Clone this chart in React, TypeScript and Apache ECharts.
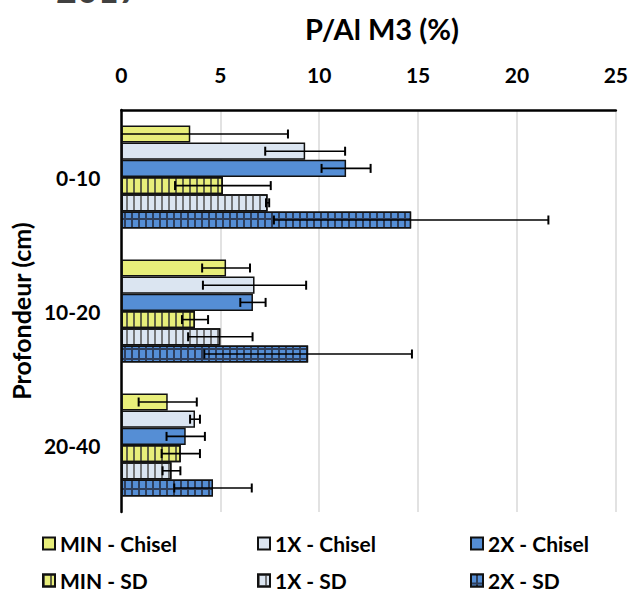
import React, { useEffect, useRef } from "react";
import * as echarts from "echarts";

const categories = ["0-10", "10-20", "20-40"];
const seriesNames = ["MIN - Chisel", "1X - Chisel", "2X - Chisel", "MIN - SD", "1X - SD", "2X - SD"];
const minChisel = [3.48, 5.29, 2.34];
const oneXChisel = [9.29, 6.73, 3.72];
const twoXChisel = [11.36, 6.65, 3.25];
const minSD = [5.13, 3.72, 3.0];
const oneXSD = [7.39, 5.0, 2.53];
const twoXSD = [14.65, 9.44, 4.63];
const errMinChisel = [4.94, 1.21, 1.47];
const errOneXChisel = [2.02, 2.61, 0.25];
const errTwoXChisel = [1.24, 0.64, 0.97];
const errMinSD = [2.42, 0.66, 0.97];
const errOneXSD = [0.08, 1.63, 0.45];
const errTwoXSD = [6.94, 5.25, 1.96];
const xTicks = [0, 5, 10, 15, 20, 25];

const FONT = "Lato";
const CAT_GAP = 0.23;

const YELLOW = "#e8ee7a";
const LIGHT = "#dbe5f1";
const BLUE = "#558ed5";

export default function App() {
  const ref = useRef<HTMLDivElement>(null);
  useEffect(() => {
    if (!ref.current) return;
    const chart = echarts.init(ref.current, null, { renderer: "svg" });
    const values = [minChisel, oneXChisel, twoXChisel, minSD, oneXSD, twoXSD];
    const errors = [errMinChisel, errOneXChisel, errTwoXChisel, errMinSD, errOneXSD, errTwoXSD];
    const nSeries = values.length;

    const stripe = (c: string) => ({
      symbol: "rect",
      symbolSize: 1,
      dashArrayX: [1.4, 4.6],
      dashArrayY: [10, 0],
      rotation: 0,
      color: c,
    });
    const grid = {
      symbol: "rect",
      symbolSize: 1,
      dashArrayX: [4.6, 1.4],
      dashArrayY: [7.4, 1.2],
      rotation: 0,
      color: BLUE,
    };
    const styles: any[] = [
      { color: YELLOW },
      { color: LIGHT },
      { color: BLUE },
      { color: YELLOW, decal: stripe("rgba(50,50,50,0.75)") },
      { color: LIGHT, decal: stripe("rgba(90,90,90,0.8)") },
      { color: "#2e3f5c", decal: grid },
    ];

    const barSeries = values.map((vals, i) => ({
      type: "bar",
      name: seriesNames[i],
      data: vals,
      barGap: "0%",
      barCategoryGap: CAT_GAP * 100 + "%",
      itemStyle: { ...styles[i], borderColor: "#111", borderWidth: 1.5 },
      z: 2,
    }));

    const errSeries = values.map((vals, i) => ({
      type: "custom",
      name: "err-" + seriesNames[i],
      clip: true,
      z: 10,
      silent: true,
      data: vals.map((v, c) => [v, c, errors[i][c]]),
      encode: { x: 0, y: 1 },
      renderItem: (params: any, api: any) => {
        const v = api.value(0);
        const c = api.value(1);
        const e = api.value(2);
        const center = api.coord([v, c]);
        const band = api.size([0, 1])[1];
        const groupW = band * (1 - CAT_GAP);
        const barW = groupW / nSeries;
        const y = center[1] - groupW / 2 + (i + 0.5) * barW;
        const l = api.coord([v - e, c])[0];
        const r = api.coord([v + e, c])[0];
        const cap = 4.5;
        const st = { stroke: "#000", lineWidth: 1.6 };
        return {
          type: "group",
          children: [
            { type: "line", shape: { x1: l, y1: y, x2: r, y2: y }, style: st },
            { type: "line", shape: { x1: l, y1: y - cap, x2: l, y2: y + cap }, style: { stroke: "#000", lineWidth: 2 } },
            { type: "line", shape: { x1: r, y1: y - cap, x2: r, y2: y + cap }, style: { stroke: "#000", lineWidth: 2 } },
          ],
        };
      },
    }));

    const legendPos = [
      { left: 42, top: 533 },
      { left: 257, top: 533 },
      { left: 470, top: 533 },
      { left: 42, top: 570 },
      { left: 257, top: 570 },
      { left: 470, top: 570 },
    ];
    const legends = seriesNames.map((n, i) => ({
      data: [n],
      left: legendPos[i].left,
      top: legendPos[i].top,
      icon: "rect",
      itemWidth: 12,
      itemHeight: 12,
      itemGap: 5,
      selectedMode: false,
      textStyle: { fontFamily: FONT, fontWeight: "bold", fontSize: 21, lineHeight: 20, color: "#000", padding: [0, 0, 0, 0] },
      padding: 0,
    }));

    chart.setOption({
      animation: false,
      backgroundColor: "#fff",
      grid: { left: 121, right: 15, top: 110, bottom: 80, containLabel: false },
      graphic: [
        {
          type: "text",
          x: 56,
          y: 7,
          style: { text: "2017", font: "bold 36px Lato", fill: "#404040", verticalAlign: "bottom", align: "left" },
        },
        {
          type: "text",
          x: 382,
          y: 28,
          style: { text: "P/Al M3 (%)", font: "bold 29px Lato", fill: "#000", align: "center", verticalAlign: "middle" },
        },
      ],
      legend: legends,
      xAxis: {
        type: "value",
        position: "top",
        min: 0,
        max: 25,
        interval: 5,
        axisLine: { show: true, lineStyle: { color: "#000", width: 2.5 } },
        axisTick: { show: false },
        splitLine: { show: true, lineStyle: { color: "#d9d9d9", width: 1.5 } },
        axisLabel: {
          margin: 25,
          fontFamily: FONT,
          fontWeight: "bold",
          fontSize: 21,
          color: "#000",
          formatter: (v: number) => (xTicks.includes(v) ? String(v) : ""),
        },
      },
      yAxis: {
        type: "category",
        inverse: true,
        data: categories,
        name: "Profondeur (cm)",
        nameLocation: "middle",
        nameRotate: 90,
        nameGap: 82,
        nameTextStyle: { fontFamily: FONT, fontWeight: "bold", fontSize: 25, color: "#000" },
        axisLine: { show: true, lineStyle: { color: "#000", width: 2.5 } },
        axisTick: { show: false },
        axisLabel: { margin: 21, fontFamily: FONT, fontWeight: "bold", fontSize: 21, color: "#000" },
        splitLine: { show: false },
      },
      series: [...barSeries, ...errSeries],
    });
    return () => chart.dispose();
  }, []);
  return <div ref={ref} style={{ width: 631, height: 592, position: "absolute", left: 0, top: 0 }} />;
}
